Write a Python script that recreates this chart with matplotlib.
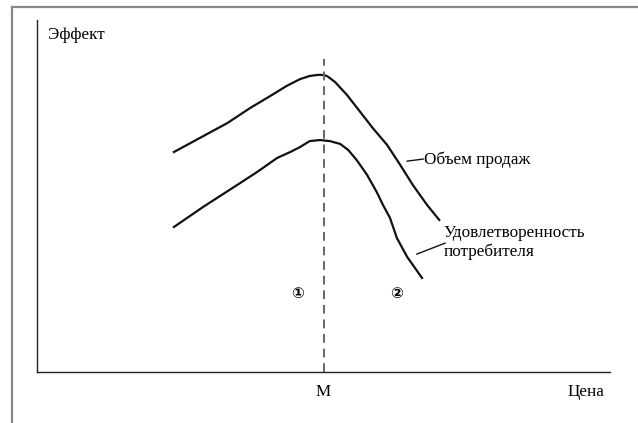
import matplotlib
matplotlib.use('Agg')
import matplotlib.pyplot as plt
from matplotlib.lines import Line2D

plt.rcParams['font.family'] = ['Liberation Serif', 'DejaVu Serif', 'DejaVu Sans']

# curve shapes (price on x, effect on y, both in 0..100 units)
sales_x = [23.9, 29.0, 33.2, 37.2, 40.7, 43.6, 45.9, 47.6, 49.0, 49.9, 50.6, 52.0,
           54.1, 56.4, 58.6, 61.1, 63.4, 65.6, 68.1, 70.2]
sales_y = [62.5, 67.0, 70.7, 75.0, 78.4, 81.3, 83.2, 84.1, 84.4, 84.4, 84.1, 82.4,
           78.7, 73.9, 69.3, 64.5, 58.8, 53.1, 47.4, 43.2]

satisf_x = [23.9, 29.0, 34.9, 38.4, 41.9, 44.2, 45.9, 47.6, 49.4, 51.1, 52.9, 54.3,
            55.8, 57.6, 59.3, 60.4, 61.6, 62.8, 64.6, 67.2]
satisf_y = [41.2, 46.9, 53.1, 56.8, 60.8, 62.5, 63.9, 65.6, 65.9, 65.6, 64.8, 63.1,
            60.2, 56.0, 51.1, 47.4, 43.8, 38.1, 32.7, 26.7]

m_price = 50
m_top = 89
zone_labels = ['①', '②']
zone_x = [45.4, 62.7]
zone_y = 22.4

fig = plt.figure(figsize=(6.38, 4.23), dpi=100)
ax = fig.add_axes([37 / 638, 51 / 423, 573 / 638, 352 / 423])
ax.set_xlim(0, 100)
ax.set_ylim(0, 100)
ax.set_xticks([])
ax.set_yticks([])
for s in ['top', 'right']:
    ax.spines[s].set_visible(False)
for s in ['left', 'bottom']:
    ax.spines[s].set_linewidth(1.0)
    ax.spines[s].set_color('#222222')

ax.plot(sales_x, sales_y, color='#111111', lw=1.6, solid_joinstyle='round')
ax.plot(satisf_x, satisf_y, color='#111111', lw=1.6, solid_joinstyle='round')
ax.plot([m_price, m_price], [0, m_top], color='#666666', lw=1.4, dashes=(4.5, 3))

fs = 12.3
ax.text(1.9, 95.7, 'Эффект', fontsize=fs, va='center', ha='left')
ax.text(m_price, -5.8, 'M', fontsize=fs, va='center', ha='center', clip_on=False)
ax.text(99, -5.8, 'Цена', fontsize=fs, va='center', ha='right', clip_on=False)

# leaders and curve labels
ax.plot([64.6, 67.4], [59.9, 60.5], color='#111111', lw=1.0)
ax.text(67.5, 60.2, 'Объем продаж', fontsize=fs, va='center', ha='left')
ax.plot([66.3, 71.2], [33.5, 36.6], color='#111111', lw=1.0)
ax.text(70.9, 36.8, 'Удовлетворенность\nпотребителя', fontsize=fs, va='center', ha='left',
        linespacing=1.2)

for lab, zx in zip(zone_labels, zone_x):
    ax.text(zx, zone_y, lab, fontsize=11, va='center', ha='center', fontweight='bold',
            family=['DejaVu Sans', 'Noto Sans CJK SC'])

# outer frame (top and left edges only visible)
fig.add_artist(Line2D([12 / 638, 1], [1 - 7 / 423, 1 - 7 / 423], color='#888888', lw=1.6,
                      transform=fig.transFigure))
fig.add_artist(Line2D([12 / 638, 12 / 638], [0, 1 - 7 / 423], color='#888888', lw=1.6,
                      transform=fig.transFigure))

fig.savefig('out.png', dpi=100)
